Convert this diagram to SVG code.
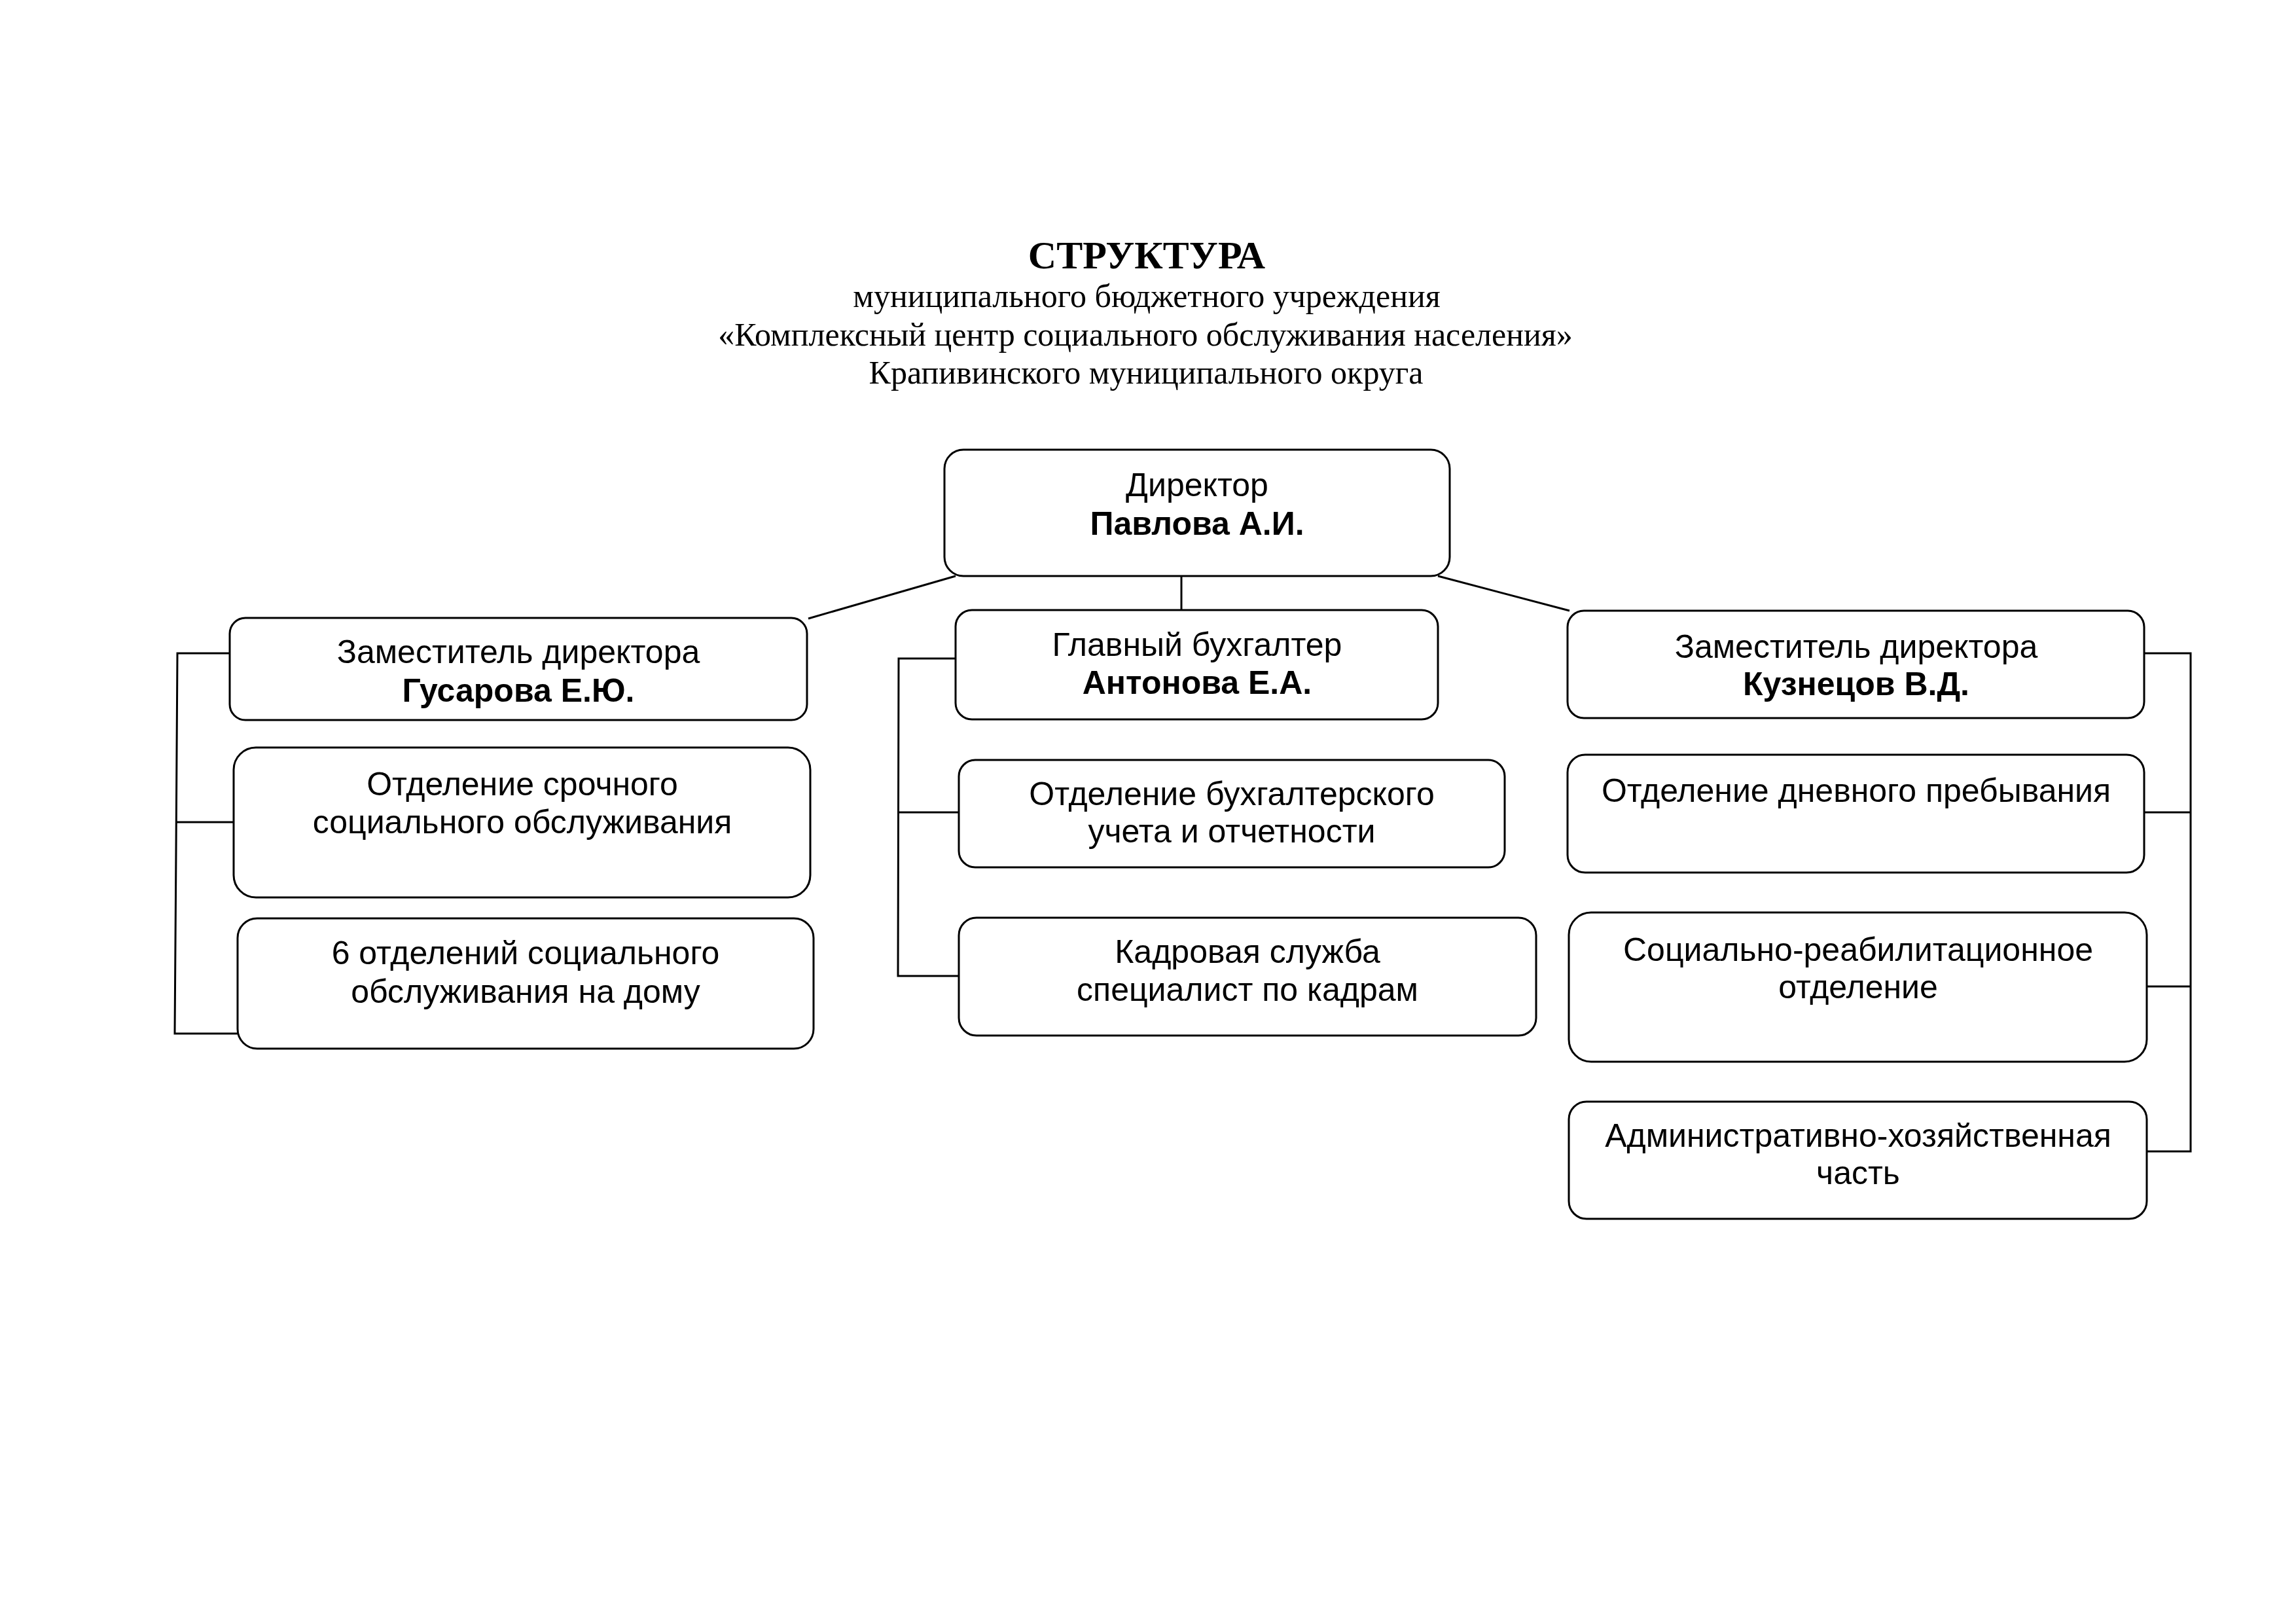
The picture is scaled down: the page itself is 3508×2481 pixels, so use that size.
<svg xmlns="http://www.w3.org/2000/svg" width="3508" height="2481" viewBox="0 0 3508 2481">
<style>
.bg{fill:#ffffff}
.box{fill:#ffffff;stroke:#000000;stroke-width:3}
.con{fill:none;stroke:#000000;stroke-width:3}
.t{font-family:"Liberation Sans",Arial,sans-serif;font-size:50px;fill:#000000;text-anchor:middle}
.b{font-weight:bold}
.h{font-family:"Liberation Serif","Times New Roman",serif;fill:#000000;text-anchor:middle}
</style>
<rect class="bg" x="0" y="0" width="3508" height="2481"/>
<g id="title">
<text class="h" x="1752" y="410" font-size="60" font-weight="bold">СТРУКТУРА</text>
<text class="h" x="1752" y="469" font-size="50">муниципального бюджетного учреждения</text>
<text class="h" x="1750" y="528" font-size="50">«Комплексный центр социального обслуживания населения»</text>
<text class="h" x="1751" y="586" font-size="50">Крапивинского муниципального округа</text>
</g>
<g id="connectors">
<line class="con" x1="1460" y1="880" x2="1235" y2="945"/>
<line class="con" x1="1805" y1="880" x2="1805" y2="932"/>
<line class="con" x1="2197" y1="880" x2="2398" y2="933"/>
<polyline class="con" points="351,998 271,998 269,1300 267,1579 363,1579"/>
<line class="con" x1="270" y1="1256" x2="357" y2="1256"/>
<polyline class="con" points="1460,1006 1373,1006 1372,1491 1465,1491"/>
<line class="con" x1="1373" y1="1241" x2="1465" y2="1241"/>
<polyline class="con" points="3276,998 3347,998 3347,1759 3280,1759"/>
<line class="con" x1="3276" y1="1241" x2="3347" y2="1241"/>
<line class="con" x1="3280" y1="1507" x2="3347" y2="1507"/>
</g>
<g id="director">
<rect class="box" x="1443" y="687" width="772" height="193" rx="29" ry="29"/>
<text class="t" x="1829" y="758">Директор</text>
<text class="t b" x="1829" y="817">Павлова А.И.</text>
</g>
<g id="deputy-gusarova">
<rect class="box" x="351" y="944" width="882" height="156" rx="24" ry="24"/>
<text class="t" x="792" y="1013">Заместитель директора</text>
<text class="t b" x="792" y="1072">Гусарова Е.Ю.</text>
</g>
<g id="urgent-service">
<rect class="box" x="357" y="1142" width="881" height="229" rx="34" ry="34"/>
<text class="t" x="798" y="1215">Отделение срочного</text>
<text class="t" x="798" y="1273">социального обслуживания</text>
</g>
<g id="home-service">
<rect class="box" x="363" y="1403" width="880" height="199" rx="30" ry="30"/>
<text class="t" x="803" y="1473">6 отделений социального</text>
<text class="t" x="803" y="1532">обслуживания на дому</text>
</g>
<g id="chief-accountant">
<rect class="box" x="1460" y="932" width="737" height="167" rx="25" ry="25"/>
<text class="t" x="1829" y="1002">Главный бухгалтер</text>
<text class="t b" x="1829" y="1060">Антонова Е.А.</text>
</g>
<g id="accounting">
<rect class="box" x="1465" y="1161" width="834" height="164" rx="25" ry="25"/>
<text class="t" x="1882" y="1230">Отделение бухгалтерского</text>
<text class="t" x="1882" y="1287">учета и отчетности</text>
</g>
<g id="hr">
<rect class="box" x="1465" y="1402" width="882" height="180" rx="27" ry="27"/>
<text class="t" x="1906" y="1471">Кадровая служба</text>
<text class="t" x="1906" y="1529">специалист по кадрам</text>
</g>
<g id="deputy-kuznetsov">
<rect class="box" x="2395" y="933" width="881" height="164" rx="25" ry="25"/>
<text class="t" x="2836" y="1005">Заместитель директора</text>
<text class="t b" x="2836" y="1062">Кузнецов В.Д.</text>
</g>
<g id="day-stay">
<rect class="box" x="2395" y="1153" width="881" height="180" rx="27" ry="27"/>
<text class="t" x="2836" y="1225">Отделение дневного пребывания</text>
</g>
<g id="rehab">
<rect class="box" x="2397" y="1394" width="883" height="228" rx="34" ry="34"/>
<text class="t" x="2839" y="1468">Социально-реабилитационное</text>
<text class="t" x="2839" y="1525">отделение</text>
</g>
<g id="admin">
<rect class="box" x="2397" y="1683" width="883" height="179" rx="27" ry="27"/>
<text class="t" x="2839" y="1752">Административно-хозяйственная</text>
<text class="t" x="2839" y="1809">часть</text>
</g>
</svg>
